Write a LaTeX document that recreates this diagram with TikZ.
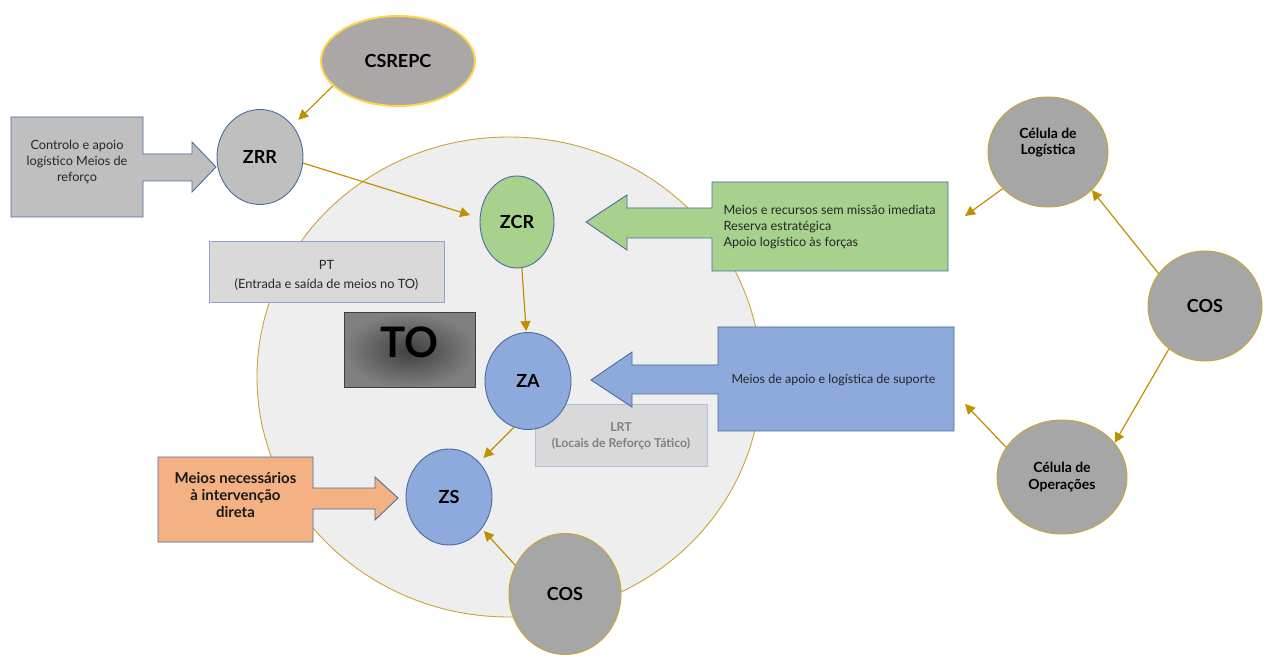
\documentclass[tikz,border=0pt]{standalone}
\usepackage{fontspec}
\setmainfont{Lato}
\usetikzlibrary{shapes.geometric,arrows.meta}

\definecolor{arrowgold}{HTML}{BF9000}
\definecolor{ringgold}{HTML}{C9A535}
\definecolor{csyellow}{HTML}{FFD54F}
\definecolor{csgray}{HTML}{ABA7A6}
\definecolor{cosgray}{HTML}{A6A6A6}
\definecolor{lightgray}{HTML}{BFBFBF}
\definecolor{panelgray}{HTML}{D9D9D9}
\definecolor{areagray}{HTML}{EEEEEE}
\definecolor{zoneblue}{HTML}{8EA9DB}
\definecolor{zonegreen}{HTML}{A9D18E}
\definecolor{zoneorange}{HTML}{F4B183}
\definecolor{edgeblue}{HTML}{4A6D9E}
\definecolor{softblue}{HTML}{8FA3C8}

\tikzset{
  zone/.style={ellipse, draw=edgeblue, line width=0.9pt, inner sep=0pt,
    font=\bfseries\fontsize{18}{20}\selectfont},
  cell/.style={ellipse, draw=ringgold, fill=cosgray, line width=1pt, inner sep=0pt,
    align=center},
  callout/.style={draw=edgeblue, line width=0.9pt},
  flow/.style={draw=arrowgold, line width=1.2pt, -{Triangle[length=10pt,width=10pt]}},
  bodytext/.style={font=\fontsize{12.7}{16}\selectfont, text=black!85},
}

\begin{document}
\begin{tikzpicture}[x=1pt,y=-1pt]
\useasboundingbox (0,0) rectangle (1270,660);

% theatre of operations
\node[ellipse, draw=ringgold, fill=areagray, line width=0.9pt,
      minimum width=504, minimum height=480, inner sep=0pt] (area) at (509,377) {};

% panels inside the area
\node[rectangle, draw=softblue, fill=panelgray, line width=1pt,
      minimum width=235, minimum height=61, inner sep=0pt] (ptbox) at (326.5,272.5) {};
\node[align=center, font=\fontsize{12.8}{19}\selectfont, text=black!85] (pttext) at (326.5,275)
  {PT\\(Entrada e saída de meios no TO)};

\node[rectangle, draw=black!75, inner color=black!75, outer color=black!50,
      line width=1pt, minimum width=131, minimum height=75, inner sep=0pt] (tobox) at (409.5,350.5) {};
\node[font=\bfseries\fontsize{42}{42}\selectfont, text=black] (totext) at (409.5,342) {TO};

\node[rectangle, draw=softblue!70, fill=panelgray, line width=1pt,
      minimum width=172, minimum height=61, inner sep=0pt] (lrtbox) at (621,435.5) {};
\node[align=center, font=\bfseries\fontsize{12.3}{16}\selectfont, text=black!50] (lrttext) at (621,436)
  {LRT\\(Locais de Reforço Tático)};

% zones
\node[zone, fill=zonegreen, minimum width=74, minimum height=92] (zcr) at (517,222) {ZCR};
\node[zone, fill=zoneblue, minimum width=86, minimum height=97] (za) at (528,381) {ZA};
\node[zone, fill=zoneblue, minimum width=86, minimum height=96] (zs) at (449,497) {ZS};
\node[zone, fill=lightgray, minimum width=86, minimum height=95] (zrr) at (260,157) {ZRR};

\node[ellipse, draw=csyellow, fill=csgray, line width=2pt, inner sep=0pt,
      minimum width=154, minimum height=90, font=\bfseries\fontsize{18}{20}\selectfont] (csrepc) at (398,61) {CSREPC};

\node[cell, minimum width=112, minimum height=121, font=\bfseries\fontsize{18}{20}\selectfont] (cosb) at (565,594) {COS};
\node[cell, minimum width=114, minimum height=110, font=\bfseries\fontsize{18}{20}\selectfont] (cosr) at (1205,306) {COS};
\node[cell, minimum width=120, minimum height=110, font=\bfseries\fontsize{14}{16}\selectfont] (clog) at (1048,152) {Célula de\\Logística\\[6pt]};
\node[cell, minimum width=130, minimum height=114, font=\bfseries\fontsize{14}{17}\selectfont] (cop) at (1062,477) {Célula de\\Operações};

% arrow-shaped panels
\path[callout, fill=lightgray] (11,117) -- (143,117) -- (143,154) -- (192,154) -- (192,142)
  -- (216,167) -- (192,192) -- (192,181) -- (143,181) -- (143,217) -- (11,217) -- cycle;
\node[align=center, bodytext] (ctext) at (77,162) {Controlo e apoio\\logístico Meios de\\reforço};

\path[callout, fill=zonegreen] (948,182) -- (712,182) -- (712,208) -- (627,208) -- (627,195)
  -- (586,222) -- (627,250) -- (627,238) -- (712,238) -- (712,271) -- (948,271) -- cycle;
\node[align=left, anchor=west, bodytext] (gtext) at (720,227)
  {Meios e recursos sem missão imediata\\Reserva estratégica\\Apoio logístico às forças};

\path[callout, fill=zoneblue] (954,327) -- (718,327) -- (718,365) -- (632,365) -- (632,352)
  -- (591,380) -- (632,407) -- (632,394) -- (718,394) -- (718,431) -- (954,431) -- cycle;
\node[anchor=west, font=\fontsize{12.5}{16}\selectfont, text=black!85] (btext) at (728,380)
  {Meios de apoio e logística de suporte};

\path[callout, fill=zoneorange] (158,457) -- (313,457) -- (313,488) -- (375,488) -- (375,477)
  -- (398,498) -- (375,520) -- (375,509) -- (313,509) -- (313,542) -- (158,542) -- cycle;
\node[align=center, font=\bfseries\fontsize{15}{17}\selectfont, text=black!90] (otext) at (235.5,495)
  {Meios necessários\\à intervenção\\direta};

% free ends of the two open connectors
\coordinate (logend) at (965,216);
\coordinate (opend) at (965,404);

% connectors
\draw[flow, shorten >=8pt] (csrepc.201) -- (zrr.44);
\draw[flow, shorten >=10pt] (zrr.352) -- (zcr.174);
\draw[flow, shorten >=1pt] (zcr.276) -- (za.92);
\draw[flow, shorten >=6pt] (za.253) -- (zs.49);
\draw[flow, shorten >=3pt] (cosb.150) -- (zs.316);
\draw[flow] (clog.219) -- (logend);
\draw[flow] (cosr.145) -- (clog.319);
\draw[flow] (cosr.230) -- (cop.33);
\draw[flow] (cop.152) -- (opend);
\end{tikzpicture}
\end{document}
